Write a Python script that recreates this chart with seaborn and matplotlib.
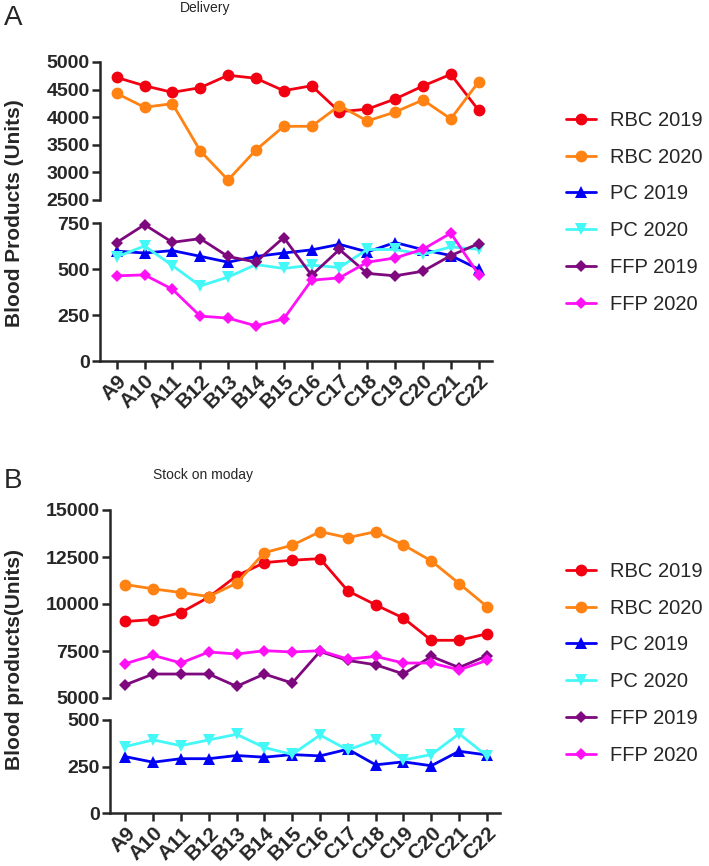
import numpy as np
import pandas as pd
import matplotlib
matplotlib.use("Agg")
import matplotlib.pyplot as plt
import seaborn as sns

weeks = ["A9", "A10", "A11", "B12", "B13", "B14", "B15", "C16", "C17", "C18", "C19", "C20", "C21", "C22"]
series_names = ["RBC 2019", "RBC 2020", "PC 2019", "PC 2020", "FFP 2019", "FFP 2020"]

# Panel A: Delivery
del_rbc19 = [4720, 4570, 4450, 4535, 4760, 4705, 4480, 4570, 4100, 4145, 4330, 4565, 4777, 4125]
del_rbc20 = [4430, 4180, 4245, 3390, 2862, 3406, 3835, 3835, 4210, 3931, 4094, 4312, 3970, 4640]
del_pc19 = [597, 587, 600, 569, 537, 568, 587, 604, 634, 593, 644, 605, 573, 499]
del_pc20 = [566, 625, 519, 408, 456, 524, 503, 521, 508, 606, 606, 579, 620, 607]
del_ffp19 = [644, 741, 645, 665, 568, 538, 671, 466, 606, 476, 463, 488, 573, 638]
del_ffp20 = [463, 468, 390, 244, 233, 191, 229, 439, 452, 537, 560, 607, 695, 470]

# Panel B: Stock on monday
stk_rbc19 = [9070, 9175, 9546, 10363, 11495, 12201, 12329, 12414, 10698, 9955, 9249, 8070, 8070, 8415]
stk_rbc20 = [11035, 10805, 10610, 10397, 11107, 12733, 13125, 13848, 13529, 13848, 13141, 12292, 11090, 9865]
stk_pc19 = [303, 273, 292, 292, 309, 300, 314, 307, 343, 259, 275, 254, 332, 312]
stk_pc20 = [357, 393, 362, 393, 423, 352, 315, 419, 339, 393, 285, 314, 426, 307]
stk_ffp19 = [5700, 6275, 6275, 6275, 5620, 6275, 5795, 7475, 6997, 6766, 6280, 7211, 6620, 7246]
stk_ffp20 = [6828, 7269, 6863, 7447, 7340, 7517, 7447, 7517, 7070, 7211, 6860, 6860, 6500, 7000]

colors = {"RBC 2019": "#F20012", "RBC 2020": "#FF8212", "PC 2019": "#0000F5",
          "PC 2020": "#44F8F8", "FFP 2019": "#7E087E", "FFP 2020": "#FF10F5"}
markers = {"RBC 2019": "o", "RBC 2020": "o", "PC 2019": "^", "PC 2020": "v",
           "FFP 2019": "D", "FFP 2020": "D"}
msizes = {"o": 8.5, "^": 8.5, "v": 8.5, "D": 6.5}


def long_df(values):
    rows = []
    for name, vals in zip(series_names, values):
        for i, v in enumerate(vals):
            rows.append({"x": i, "week": weeks[i], "series": name, "value": v})
    return pd.DataFrame(rows)


df_a = long_df([del_rbc19, del_rbc20, del_pc19, del_pc20, del_ffp19, del_ffp20])
df_b = long_df([stk_rbc19, stk_rbc20, stk_pc19, stk_pc20, stk_ffp19, stk_ffp20])

sns.set_style("ticks")
plt.rcParams["font.family"] = ["Liberation Sans", "DejaVu Sans"]

W, H = 709, 866
fig = plt.figure(figsize=(W / 100, H / 100), dpi=100)


def ax_at(x0, y0, x1, y1):
    return fig.add_axes([x0 / W, 1 - y1 / H, (x1 - x0) / W, (y1 - y0) / H])


def draw(ax, df):
    for name in series_names:
        sub = df[df["series"] == name]
        m = markers[name]
        sns.lineplot(data=sub, x="x", y="value", ax=ax, color=colors[name],
                     marker=m, markersize=msizes[m], markeredgewidth=0,
                     linewidth=2.0, label=name, legend=False, clip_on=False,
                     sort=False)
    ax.set_xlabel("")
    ax.set_ylabel("")


TICKFS = 14
XTICKFS = 15


def style_axes(top, bot, ytop, ybot, xl):
    for ax in (top, bot):
        ax.set_xlim(*xl)
        for s in ("top", "right"):
            ax.spines[s].set_visible(False)
        ax.spines["left"].set_linewidth(1.8)
        ax.spines["bottom"].set_linewidth(1.8)
        ax.tick_params(axis="both", width=1.8, length=5.5, labelsize=TICKFS, pad=2)
    top.spines["bottom"].set_visible(False)
    top.tick_params(axis="x", bottom=False, labelbottom=False)
    top.set_ylim(ytop[0], ytop[-1])
    top.set_yticks(ytop)
    top.set_yticklabels([str(v) for v in ytop], fontweight="bold", fontsize=TICKFS)
    bot.set_ylim(ybot[0], ybot[-1])
    bot.set_yticks(ybot)
    bot.set_yticklabels([str(v) for v in ybot], fontweight="bold", fontsize=TICKFS)
    bot.set_xticks(range(len(weeks)))
    bot.set_xticklabels(weeks, rotation=45, ha="right", rotation_mode="anchor",
                        fontweight="bold", fontsize=XTICKFS)


# Panel A
a_top = ax_at(100, 62, 492, 200)
a_bot = ax_at(100, 223, 492, 361)
draw(a_top, df_a)
draw(a_bot, df_a)
style_axes(a_top, a_bot, [2500, 3000, 3500, 4000, 4500, 5000], [0, 250, 500, 750], (-0.6, 13.48))

# Panel B
b_top = ax_at(110, 510, 500, 698)
b_bot = ax_at(110, 720, 500, 813)
draw(b_top, df_b)
draw(b_bot, df_b)
style_axes(b_top, b_bot, [5000, 7500, 10000, 12500, 15000], [0, 250, 500], (-0.55, 13.47))

# Titles, labels, panel letters
fig.text(205 / W, 1 - 8 / H, "Delivery", ha="center", va="center", fontsize=10)
fig.text(203 / W, 1 - 475 / H, "Stock on moday", ha="center", va="center", fontsize=10)
fig.text(13 / W, 1 - 18 / H, "A", ha="center", va="center", fontsize=20)
fig.text(13 / W, 1 - 481 / H, "B", ha="center", va="center", fontsize=20)
fig.text(15 / W, 1 - 213 / H, "Blood Products (Units)", rotation=90, ha="center",
         va="center", fontsize=15, fontweight="bold")
fig.text(15 / W, 1 - 660 / H, "Blood products(Units)", rotation=90, ha="center",
         va="center", fontsize=15, fontweight="bold")

# Legends
handles, labels = a_top.get_legend_handles_labels()
for yy in (111, 562):
    fig.legend(handles, labels, loc="upper left", bbox_to_anchor=(566 / W, 1 - yy / H),
               frameon=False, fontsize=14.5, borderpad=0, borderaxespad=0,
               labelspacing=0.88, handlelength=1.5, handletextpad=0.7)

fig.savefig("out.png", dpi=100)
